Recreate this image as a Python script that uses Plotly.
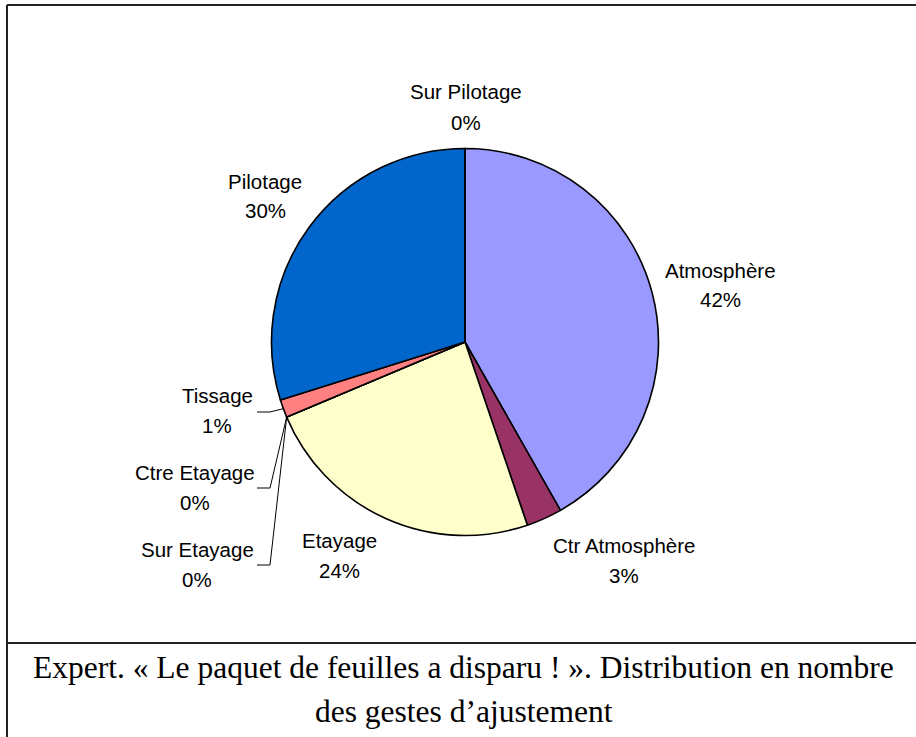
import math
import plotly.graph_objects as go

# Adjustment gestures counted for the expert session
categories = ["Atmosphère", "Ctr Atmosphère", "Etayage", "Sur Etayage",
              "Ctre Etayage", "Tissage", "Pilotage", "Sur Pilotage"]
counts = [28, 2, 16, 0, 0, 1, 20, 0]
colors = ["#9999FF", "#993366", "#FFFFCC", "#CCFFFF",
          "#660066", "#FF8080", "#0066CC", "#CCCCFF"]
caption_lines = ["Expert. « Le paquet de feuilles a disparu ! ». Distribution en nombre",
                 "des gestes d’ajustement"]

W, H = 916, 737
CX, CY, R = 465.0, 342.0, 193.5          # pie centre / radius in pixels

# label placement (pixel centre of the name line); percent line sits below
label_pos = {
    "Sur Pilotage": (466, 92),
    "Atmosphère": (720, 270),
    "Ctr Atmosphère": (624, 545),
    "Etayage": (339, 540),
    "Sur Etayage": (197, 549),
    "Ctre Etayage": (195, 472),
    "Tissage": (217, 395),
    "Pilotage": (265, 181),
}
LINE_GAP = 30
# labels that get a leader line: y of the short horizontal tick
leaders = {"Tissage": 412, "Ctre Etayage": 488, "Sur Etayage": 565}
TICK_X0, TICK_X1 = 257, 270


def px(x):
    return x / W


def py(y):
    return 1 - y / H


total = sum(counts)
pcts = [c / total * 100 for c in counts]

fig = go.Figure(go.Pie(
    labels=categories,
    values=counts,
    sort=False,
    direction="clockwise",
    rotation=0,
    marker=dict(colors=colors, line=dict(color="black", width=1.6)),
    textinfo="none",
    hoverinfo="label+percent",
    showlegend=False,
    domain=dict(x=[px(CX - R), px(CX + R)], y=[py(CY + R), py(CY - R)]),
))

annotations = []
shapes = []
font = dict(family="Liberation Sans, Arial, sans-serif", size=20.5, color="black")
cum = 0.0
for name, p in zip(categories, pcts):
    mid = (cum + p / 2) / 100 * 2 * math.pi
    cum += p
    lx, ly = label_pos[name]
    annotations.append(dict(x=px(lx), y=py(ly), xref="paper", yref="paper",
                            text=name, showarrow=False, font=font,
                            xanchor="center", yanchor="middle"))
    annotations.append(dict(x=px(lx), y=py(ly + LINE_GAP), xref="paper", yref="paper",
                            text=f"{p:.0f}%", showarrow=False, font=font,
                            xanchor="center", yanchor="middle"))
    if name in leaders:
        ex = CX + R * math.sin(mid)
        ey = CY - R * math.cos(mid)
        ty = leaders[name]
        shapes.append(dict(type="path", xref="paper", yref="paper",
                           path=f"M {px(TICK_X0)} {py(ty)} L {px(TICK_X1)} {py(ty)} "
                                f"L {px(ex)} {py(ey)}",
                           line=dict(color="black", width=1)))

# frame around the chart and its caption
frame = dict(color="#222222", width=2)
shapes += [
    dict(type="line", xref="paper", yref="paper", x0=px(7), x1=1, y0=py(5), y1=py(5), line=frame),
    dict(type="line", xref="paper", yref="paper", x0=px(7), x1=px(7), y0=py(5), y1=py(737), line=frame),
    dict(type="line", xref="paper", yref="paper", x0=px(8), x1=1, y0=py(643), y1=py(643), line=frame),
]

cap_font = dict(family="Liberation Serif, Times New Roman, serif", size=31.5, color="black")
for i, line in enumerate(caption_lines):
    annotations.append(dict(x=px(464), y=py(667 + 44 * i), xref="paper", yref="paper",
                            text=line, showarrow=False, font=cap_font,
                            xanchor="center", yanchor="middle"))

fig.update_layout(
    width=W, height=H,
    margin=dict(l=0, r=0, t=0, b=0),
    paper_bgcolor="white", plot_bgcolor="white",
    annotations=annotations, shapes=shapes,
)

fig.write_html("out.html")
